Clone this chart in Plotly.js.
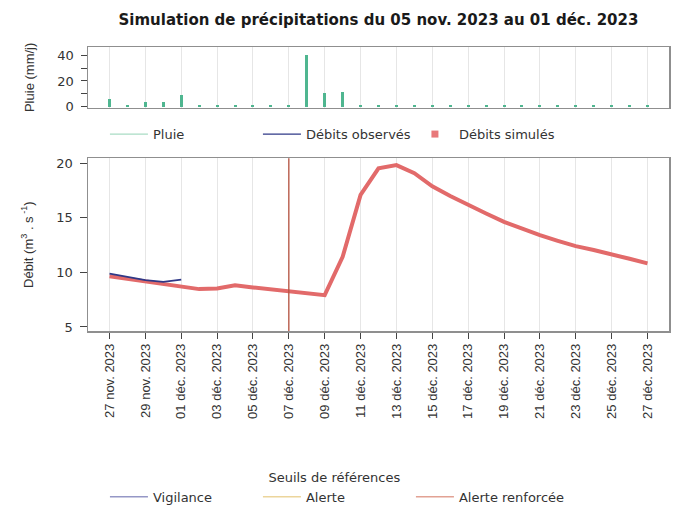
<!DOCTYPE html>
<html>
<head>
<meta charset="utf-8">
<script src="https://cdn.plot.ly/plotly-3.0.1.min.js"></script>
<style>html,body{margin:0;padding:0;background:#fff;}#chart{width:677px;height:508px;}</style>
</head>
<body>
<div id="chart"></div>
<script>
// ---- Data ----
const dates = ['2023-11-27','2023-11-28','2023-11-29','2023-11-30','2023-12-01','2023-12-02','2023-12-03','2023-12-04',
  '2023-12-05','2023-12-06','2023-12-07','2023-12-08','2023-12-09','2023-12-10','2023-12-11','2023-12-12','2023-12-13',
  '2023-12-14','2023-12-15','2023-12-16','2023-12-17','2023-12-18','2023-12-19','2023-12-20','2023-12-21','2023-12-22',
  '2023-12-23','2023-12-24','2023-12-25','2023-12-26','2023-12-27'];
const pluie = [6, 1.5, 4, 3.5, 9, 1.5, 1.5, 1.5, 1, 1.5, 1, 40, 11, 11.5, 1, 1, 1,
  1, 1, 1, 1, 1, 1, 1, 1, 1, 1, 1, 1, 1, 1];
const debitsSimules = [9.65, 9.4, 9.14, 8.9, 8.68, 8.47, 8.53, 8.83, 8.62, 8.44, 8.22, 8.07, 7.92, 11.43, 17.1, 19.54, 19.84,
  19.1, 17.9, 17.0, 16.17, 15.4, 14.64, 14.0, 13.42, 12.9, 12.41, 12.05, 11.68, 11.25, 10.83];
const datesObs = ['2023-11-27','2023-11-28','2023-11-29','2023-11-30','2023-12-01'];
const debitsObserves = [9.9, 9.6, 9.3, 9.14, 9.35];
const dateReference = '2023-12-07';
const tickLabels = ['27 nov. 2023','29 nov. 2023','01 déc. 2023','03 déc. 2023','05 déc. 2023','07 déc. 2023',
  '09 déc. 2023','11 déc. 2023','13 déc. 2023','15 déc. 2023','17 déc. 2023','19 déc. 2023','21 déc. 2023',
  '23 déc. 2023','25 déc. 2023','27 déc. 2023'];
const tickDates = dates.filter((d, i) => i % 2 === 0);
const rainTickVals = [0, 20, 40];
const flowTickVals = [5, 10, 15, 20];
const seuils = ['Vigilance', 'Alerte', 'Alerte renforcée'];
const seuilColors = ['#9597c6', '#ecd59c', '#e2a294'];

// ---- Styles ----
const FONT = 'Liberation Sans, Arial, sans-serif';
const WIDE = 'DejaVu Sans, Liberation Sans, sans-serif';
const frame = '#8f8f8f';
const gridc = '#e6e6e6';

const traces = [
  {type:'bar', x:dates, y:pluie, xaxis:'x2', yaxis:'y2', marker:{color:'#4fb690'}, width:14400000,
   showlegend:false, name:'Pluie'},
  {type:'scatter', mode:'lines', x:dates, y:debitsSimules, line:{color:'#e26a6a', width:4},
   showlegend:false, name:'Débits simulés'},
  {type:'scatter', mode:'lines', x:datesObs, y:debitsObserves, line:{color:'#2f3887', width:1.8},
   showlegend:false, name:'Débits observés'},
  // legend entries
  {type:'scatter', mode:'lines', x:[null], y:[null], name:'Pluie', line:{color:'#a9dcc4', width:1.2}, legend:'legend'},
  {type:'scatter', mode:'lines', x:[null], y:[null], name:'Débits observés', line:{color:'#2f3887', width:1.2}, legend:'legend'},
  {type:'scatter', mode:'markers', x:[null], y:[null], name:'Débits simulés', marker:{color:'#e8787a', symbol:'square', size:7}, legend:'legend'}
];
seuils.forEach((s, i) => traces.push({type:'scatter', mode:'lines', x:[null], y:[null], name:s,
  line:{color:seuilColors[i], width:1.5}, legend:'legend2'}));

const xRange = ['2023-11-25 19:12', '2023-12-28 04:48'];
const layout = {
  width:677, height:508,
  margin:{l:88, r:8, t:47, b:177, autoexpand:false},
  paper_bgcolor:'#fff', plot_bgcolor:'#fff',
  font:{family:FONT, size:13, color:'#333'},
  title:{text:'<b>Simulation de précipitations du 05 nov. 2023 au 01 déc. 2023</b>', x:0.5, xanchor:'center',
    xref:'paper', yref:'container', y:0.962, yanchor:'middle', font:{family:WIDE, size:15, color:'#1a1a1a'}},
  xaxis:{domain:[0,1], anchor:'y', type:'date', range:xRange, tickmode:'array', tickvals:tickDates, ticktext:tickLabels,
    tickangle:-90, ticks:'outside', ticklen:6, tickcolor:'#444', showgrid:true, gridcolor:gridc, gridwidth:1,
    showline:true, linecolor:frame, linewidth:1.5, mirror:true, zeroline:false, automargin:false,
    tickfont:{family:FONT, size:13, color:'#333'}},
  yaxis:{domain:[0,0.608], anchor:'x', range:[4.63,20.46], tickmode:'array', tickvals:flowTickVals, ticks:'outside',
    ticklen:7, tickcolor:'#444', showgrid:false, showline:true, linecolor:frame, linewidth:1.5, mirror:true, zeroline:false,
    automargin:false, ticklabelstandoff:4, tickfont:{family:WIDE, size:13, color:'#333'},
    title:{text:'Débit (m<sup>3</sup> . s<sup> -1</sup>)', standoff:20, font:{family:FONT, size:13, color:'#333'}}},
  xaxis2:{domain:[0,1], anchor:'y2', type:'date', matches:'x', range:xRange, tickmode:'array', tickvals:tickDates,
    showticklabels:false, ticks:'', showgrid:true, gridcolor:gridc, gridwidth:1, showline:true, linecolor:frame,
    linewidth:1.5, mirror:true, zeroline:false, automargin:false},
  yaxis2:{domain:[0.786,1], anchor:'x2', range:[-0.8,46.4], tickmode:'array', tickvals:rainTickVals,
    ticks:'outside', ticklen:6, tickcolor:'#444', showgrid:false, showline:true, linecolor:frame, linewidth:1.5,
    minor:{dtick:10, ticks:'outside', ticklen:6, tickcolor:'#444', showgrid:false},
    mirror:true, zeroline:false, automargin:false, ticklabelstandoff:4, tickfont:{family:WIDE, size:13, color:'#333'},
    title:{text:'Pluie (mm/j)', standoff:20, font:{family:FONT, size:13, color:'#333'}}},
  shapes:[{type:'line', xref:'x', yref:'y domain', x0:dateReference, x1:dateReference, y0:0, y1:1,
    line:{color:'#b5523f', width:1.3}}],
  legend:{orientation:'h', xref:'container', yref:'container', x:0.155, xanchor:'left', y:0.736, yanchor:'middle',
    entrywidth:100, entrywidthmode:'pixels', itemwidth:38, bgcolor:'rgba(0,0,0,0)',
    font:{family:WIDE, size:13, color:'#333'}, traceorder:'normal'},
  legend2:{orientation:'h', xref:'container', yref:'container', x:0.155, xanchor:'left', y:0.0846, yanchor:'top',
    entrywidth:100, entrywidthmode:'pixels', itemwidth:38, bgcolor:'rgba(0,0,0,0)',
    font:{family:WIDE, size:13, color:'#333'}, traceorder:'normal',
    title:{text:'Seuils de références', side:'top center', font:{family:WIDE, size:13, color:'#333'}}},
  showlegend:true,
  bargap:0
};

Plotly.newPlot('chart', traces, layout, {displayModeBar:false, staticPlot:true});
</script>
</body>
</html>
